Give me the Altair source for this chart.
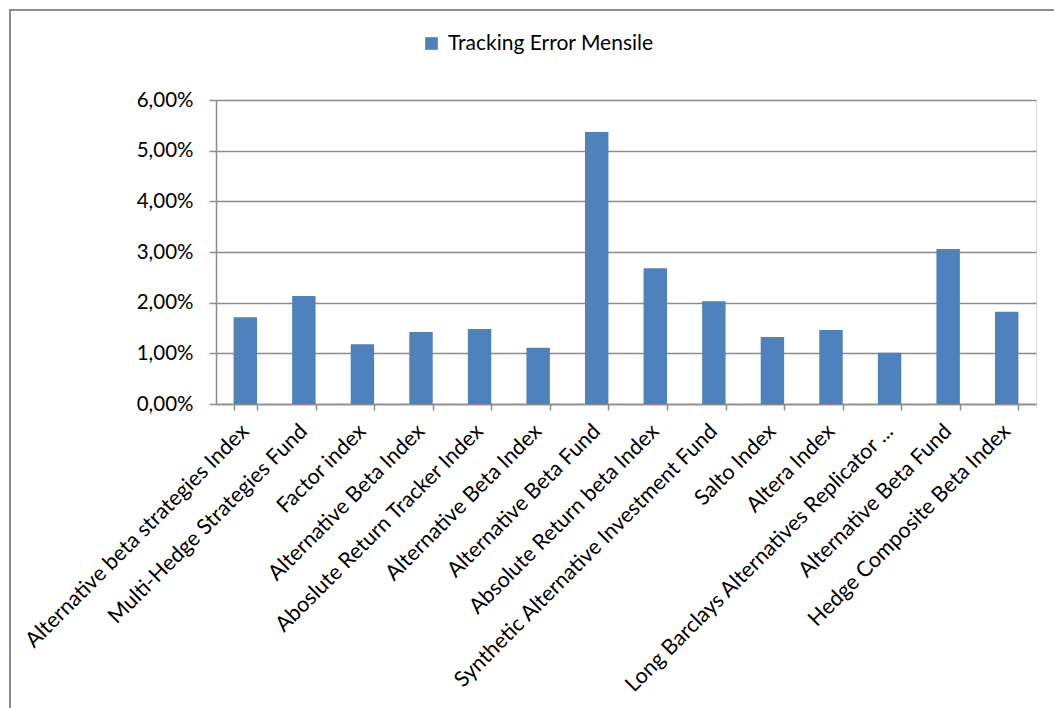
import json
import altair as alt
import pandas as pd

names = [
    "Alternative beta strategies Index",
    "Multi-Hedge Strategies Fund",
    "Factor index",
    "Alternative Beta Index",
    "Aboslute Return Tracker Index",
    "Alternative Beta Index",
    "Alternative Beta Fund",
    "Absolute Return beta Index",
    "Synthetic Alternative Investment Fund",
    "Salto Index",
    "Altera Index",
    "Long Barclays Alternatives Replicator ...",
    "Alternative Beta Fund",
    "Hedge Composite Beta Index",
]
values = [0.0171, 0.0213, 0.0118, 0.0142, 0.0148, 0.0111, 0.0537, 0.0268,
          0.0203, 0.0132, 0.0146, 0.0101, 0.0306, 0.0182]
series_name = "Tracking Error Mensile"
y_ticks = [0.0, 0.01, 0.02, 0.03, 0.04, 0.05, 0.06]

FONT = "Lato"
GRAY = "#8c8c8c"
BLUE = "#4F81BD"

df = pd.DataFrame({"idx": list(range(len(names))), "value": values,
                   "series": [series_name] * len(names)})

label_expr = json.dumps(names) + "[datum.value]"

bars = alt.Chart(df).mark_bar(color=BLUE).encode(
    x=alt.X("idx:O", title=None,
            scale=alt.Scale(paddingInner=0.6, paddingOuter=0.3),
            axis=alt.Axis(labelExpr=label_expr, labelAngle=-45, labelAlign="right",
                          labelBaseline="middle", labelPadding=18, tickBand="extent",
                          tickSize=6, tickColor=GRAY, tickWidth=1.5, domainColor=GRAY,
                          domainWidth=1.5, labelFont=FONT, labelFontSize=21.5,
                          labelColor="black", grid=False, labelLimit=600)),
    y=alt.Y("value:Q", title=None,
            scale=alt.Scale(domain=[0, 0.06], nice=False),
            axis=alt.Axis(values=y_ticks,
                          labelExpr="replace(format(datum.value, '.2%'), '.', ',')",
                          tickSize=7, tickColor=GRAY, tickWidth=1.5, domainColor=GRAY,
                          domainWidth=1.5, gridColor=GRAY, gridWidth=1.5,
                          labelFont=FONT, labelFontSize=20.5, labelColor="black",
                          labelPadding=16)),
    color=alt.Color("series:N", title=None,
                    scale=alt.Scale(range=[BLUE]),
                    legend=alt.Legend(orient="none", legendX=205, legendY=-67,
                                      symbolType="square", symbolSize=160,
                                      symbolStrokeWidth=0, labelFont=FONT,
                                      labelFontSize=21, labelColor="black",
                                      labelOffset=6, labelLimit=600)),
)

frame_top = alt.Chart(df).mark_rule(color=GRAY, strokeWidth=2).encode(
    x=alt.value(-206), x2=alt.value(900), y=alt.value(-90))
frame_left = alt.Chart(df).mark_rule(color=GRAY, strokeWidth=2).encode(
    x=alt.value(-206), y=alt.value(-91), y2=alt.value(700))

chart = alt.layer(bars, frame_top, frame_left).properties(
    width=820, height=304,
    autosize=alt.AutoSizeParams(type="none"),
    padding={"left": 216, "top": 100, "right": 18, "bottom": 304},
).configure_view(stroke=None).configure(background="white")

chart.save("out.html", embed_options={"renderer": "svg", "actions": False})
